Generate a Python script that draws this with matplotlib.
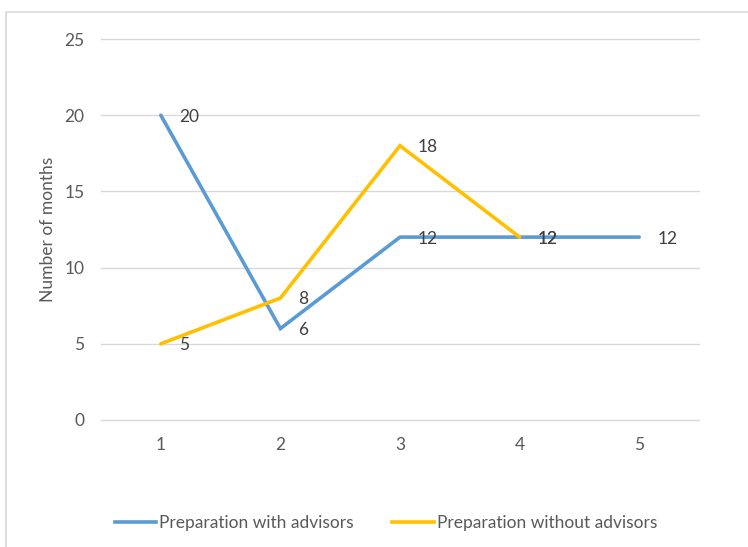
import matplotlib.pyplot as plt
from matplotlib.lines import Line2D
from matplotlib.patches import Rectangle

plt.rcParams['font.family'] = ['Lato', 'DejaVu Sans']

months = [1, 2, 3, 4, 5]
with_advisors = [20, 6, 12, 12, 12]
without_advisors = [5, 8, 18, 12]
y_ticks = [0, 5, 10, 15, 20, 25]

BLUE = '#5B9BD5'
GOLD = '#FFC000'
GRID = '#D9D9D9'
TICK = '#595959'
LABEL = '#404040'
FS = 12.5

fig = plt.figure(figsize=(7.48, 5.47), dpi=100)
W, H = 748, 547

# chart border (runs off the right and bottom edges)
fig.patches.append(Rectangle((6 / W, -0.05), 1.0, 1 - 12 / H + 0.05,
                             transform=fig.transFigure, fill=False,
                             edgecolor=GRID, linewidth=1.2))

ax = fig.add_axes([101 / W, 1 - 420 / H, (699 - 101) / W, (420 - 39) / H])
ax.set_xlim(0.5, 5.5)
ax.set_ylim(0, 25)
ax.set_yticks(y_ticks)
ax.set_xticks(months)
for s in ax.spines.values():
    s.set_visible(False)
ax.grid(axis='y', color=GRID, linewidth=1)
for gl in ax.get_ygridlines():
    gl.set_clip_on(False)
ax.set_axisbelow(True)
ax.tick_params(length=0, labelsize=FS, labelcolor=TICK)
ax.tick_params(axis='y', pad=12)
ax.tick_params(axis='x', pad=12)
fig.text(48 / W, 1 - 229 / H, 'Number of months', rotation=90, fontsize=FS,
         color=TICK, ha='center', va='center')

ax.plot(months, with_advisors, color=BLUE, linewidth=2.6,
        solid_capstyle='round', solid_joinstyle='miter', zorder=3)
ax.plot(months[:len(without_advisors)], without_advisors, color=GOLD,
        linewidth=2.6, solid_capstyle='round', solid_joinstyle='miter', zorder=4)

for series in (with_advisors, without_advisors):
    for x, y in zip(months, series):
        ax.annotate(str(y), (x, y), xytext=(13, -1), textcoords='offset points',
                    ha='left', va='center', fontsize=FS, color=LABEL, zorder=5)

handles = [Line2D([], [], color=BLUE, linewidth=2.6),
           Line2D([], [], color=GOLD, linewidth=2.6)]
fig.legend(handles, ['Preparation with advisors', 'Preparation without advisors'],
           loc='center', bbox_to_anchor=(386 / W, 1 - 523 / H), ncol=2,
           frameon=False, fontsize=FS, labelcolor=TICK, handlelength=2.4,
           handletextpad=0.17, columnspacing=2.2)

fig.savefig('out.png', dpi=100)
